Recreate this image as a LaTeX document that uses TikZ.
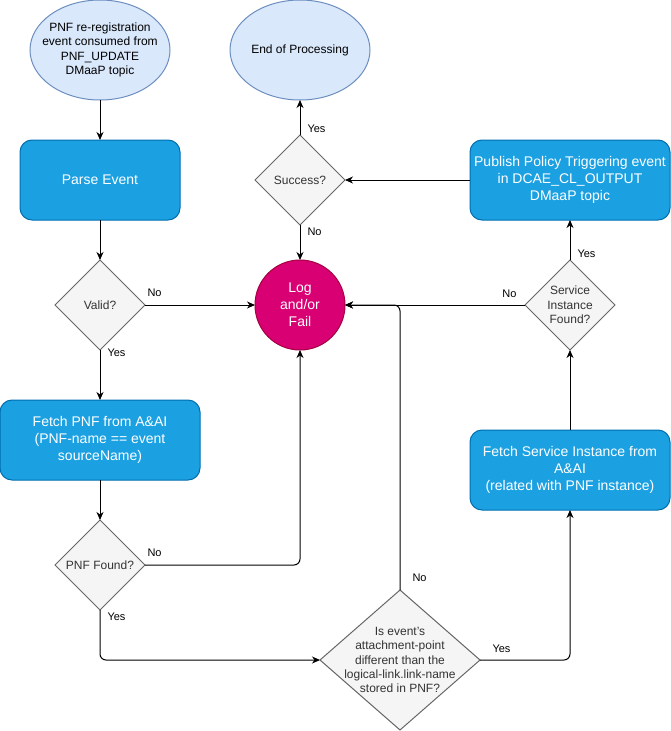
\documentclass[tikz,border=0pt]{standalone}
\usepackage{fontspec}
\setmainfont{Liberation Sans}
\usepackage{xcolor}
\usetikzlibrary{positioning, arrows.meta, shapes.geometric}

\definecolor{termfill}{HTML}{DAE8FC}
\definecolor{termline}{HTML}{6C8EBF}
\definecolor{procfill}{HTML}{1BA1E2}
\definecolor{procline}{HTML}{006EAF}
\definecolor{decfill}{HTML}{F5F5F5}
\definecolor{decline}{HTML}{666666}
\definecolor{dectext}{HTML}{333333}
\definecolor{failfill}{HTML}{D80073}
\definecolor{failline}{HTML}{A50040}

\begin{document}
\begin{tikzpicture}[
      node distance=40pt,
      terminal/.style={ellipse, draw=termline, fill=termfill, line width=1pt, outer sep=0pt, minimum width=140pt, minimum height=100pt, inner sep=0pt, align=center, font=\fontsize{12}{14.4}\selectfont},
      process/.style={draw=procline, fill=procfill, line width=1pt, outer sep=0pt, rounded corners=12pt, minimum width=200pt, minimum height=80pt, inner xsep=2pt, align=center, text=white, font=\fontsize{14}{17}\selectfont},
      decision/.style={diamond, draw=decline, fill=decfill, line width=1pt, outer sep=0pt, minimum width=90pt, minimum height=90pt, inner sep=0pt, align=center, text=dectext, font=\fontsize{12}{14.4}\selectfont},
      failure/.style={circle, draw=failline, fill=failfill, line width=1pt, outer sep=0pt, minimum size=90pt, inner sep=0pt, align=center, text=white, font=\fontsize{14}{17}\selectfont},
      inlabel/.style={inner sep=0pt, align=center, font=\fontsize{12}{14.4}\selectfont},
      arr/.style={-{Stealth[length=8pt, width=7pt, inset=2.5pt]}, line width=1pt, rounded corners=6pt},
      lbl/.style={font=\fontsize{11}{13}\selectfont, inner sep=2pt}
    ]
    \useasboundingbox (0pt,0pt) rectangle (671pt,-731pt);

    \node[terminal, label={[inlabel]center:{PNF re-registration\\event consumed from\\PNF\_UPDATE\\DMaaP topic}}] (start) at (100pt,-50pt) {};
    \node[process, minimum width=160pt, below=of start] (parse) {Parse Event};
    \node[decision, below=of parse] (valid) {Valid?};
    \node[process, below=50pt of valid] (fetchpnf) {Fetch PNF from A\&AI\\(PNF-name == event\\sourceName)};
    \node[decision, below=of fetchpnf] (pnffound) {PNF Found?};

    \node[failure, right=110pt of valid] (log) {Log\\and/or\\Fail};
    \node[decision, above=35pt of log] (success) {Success?};
    \node[terminal, above=35pt of success] (endproc) {End of Processing};

    \node[process, right=125pt of success] (publish) {Publish Policy Triggering event\\in DCAE\_CL\_OUTPUT\\DMaaP topic};
    \node[decision, below=of publish] (svcfound) {Service\\Instance\\Found?};
    \node[process, below=80pt of svcfound] (fetchsvc) {Fetch Service Instance from\\A\&AI\\(related with PNF instance)};

    \node[decision, minimum width=160pt, minimum height=140pt, label={[inlabel, text=dectext]center:{Is event's\\attachment-point\\different than the\\logical-link.link-name\\stored in PNF?}}] (attach) at (400pt,-660pt) {};

    \draw[arr] (start) -- (parse);
    \draw[arr] (parse) -- (valid);
    \draw[arr] (valid) -- node[lbl, pos=0, above right, yshift=6pt]{No} (log);
    \draw[arr] (valid) -- node[lbl, pos=0, below right, xshift=5pt, yshift=4pt]{Yes} (fetchpnf);
    \draw[arr] (fetchpnf) -- (pnffound);
    \draw[arr] (pnffound) -| node[lbl, pos=0, above right, yshift=6pt]{No} (log);
    \draw[arr] (pnffound) |- node[lbl, pos=0, below right, xshift=5pt]{Yes} (attach);
    \draw[arr] (attach) |- node[lbl, pos=0, above right, xshift=10pt, yshift=6pt]{No} (log);
    \draw[arr] (attach) -| node[lbl, pos=0, above right, xshift=10pt, yshift=5pt]{Yes} (fetchsvc);
    \draw[arr] (fetchsvc) -- (svcfound);
    \draw[arr] (svcfound) -- node[lbl, pos=0, above left, xshift=-6pt, yshift=5pt]{No} (log);
    \draw[arr] (svcfound) -- node[lbl, pos=0, above right, xshift=5pt]{Yes} (publish);
    \draw[arr] (publish) -- (success);
    \draw[arr] (success) -- node[lbl, pos=0, above right, xshift=5pt]{Yes} (endproc);
    \draw[arr] (success) -- node[lbl, pos=0, below right, xshift=5pt]{No} (log);
  \end{tikzpicture}
\end{document}
